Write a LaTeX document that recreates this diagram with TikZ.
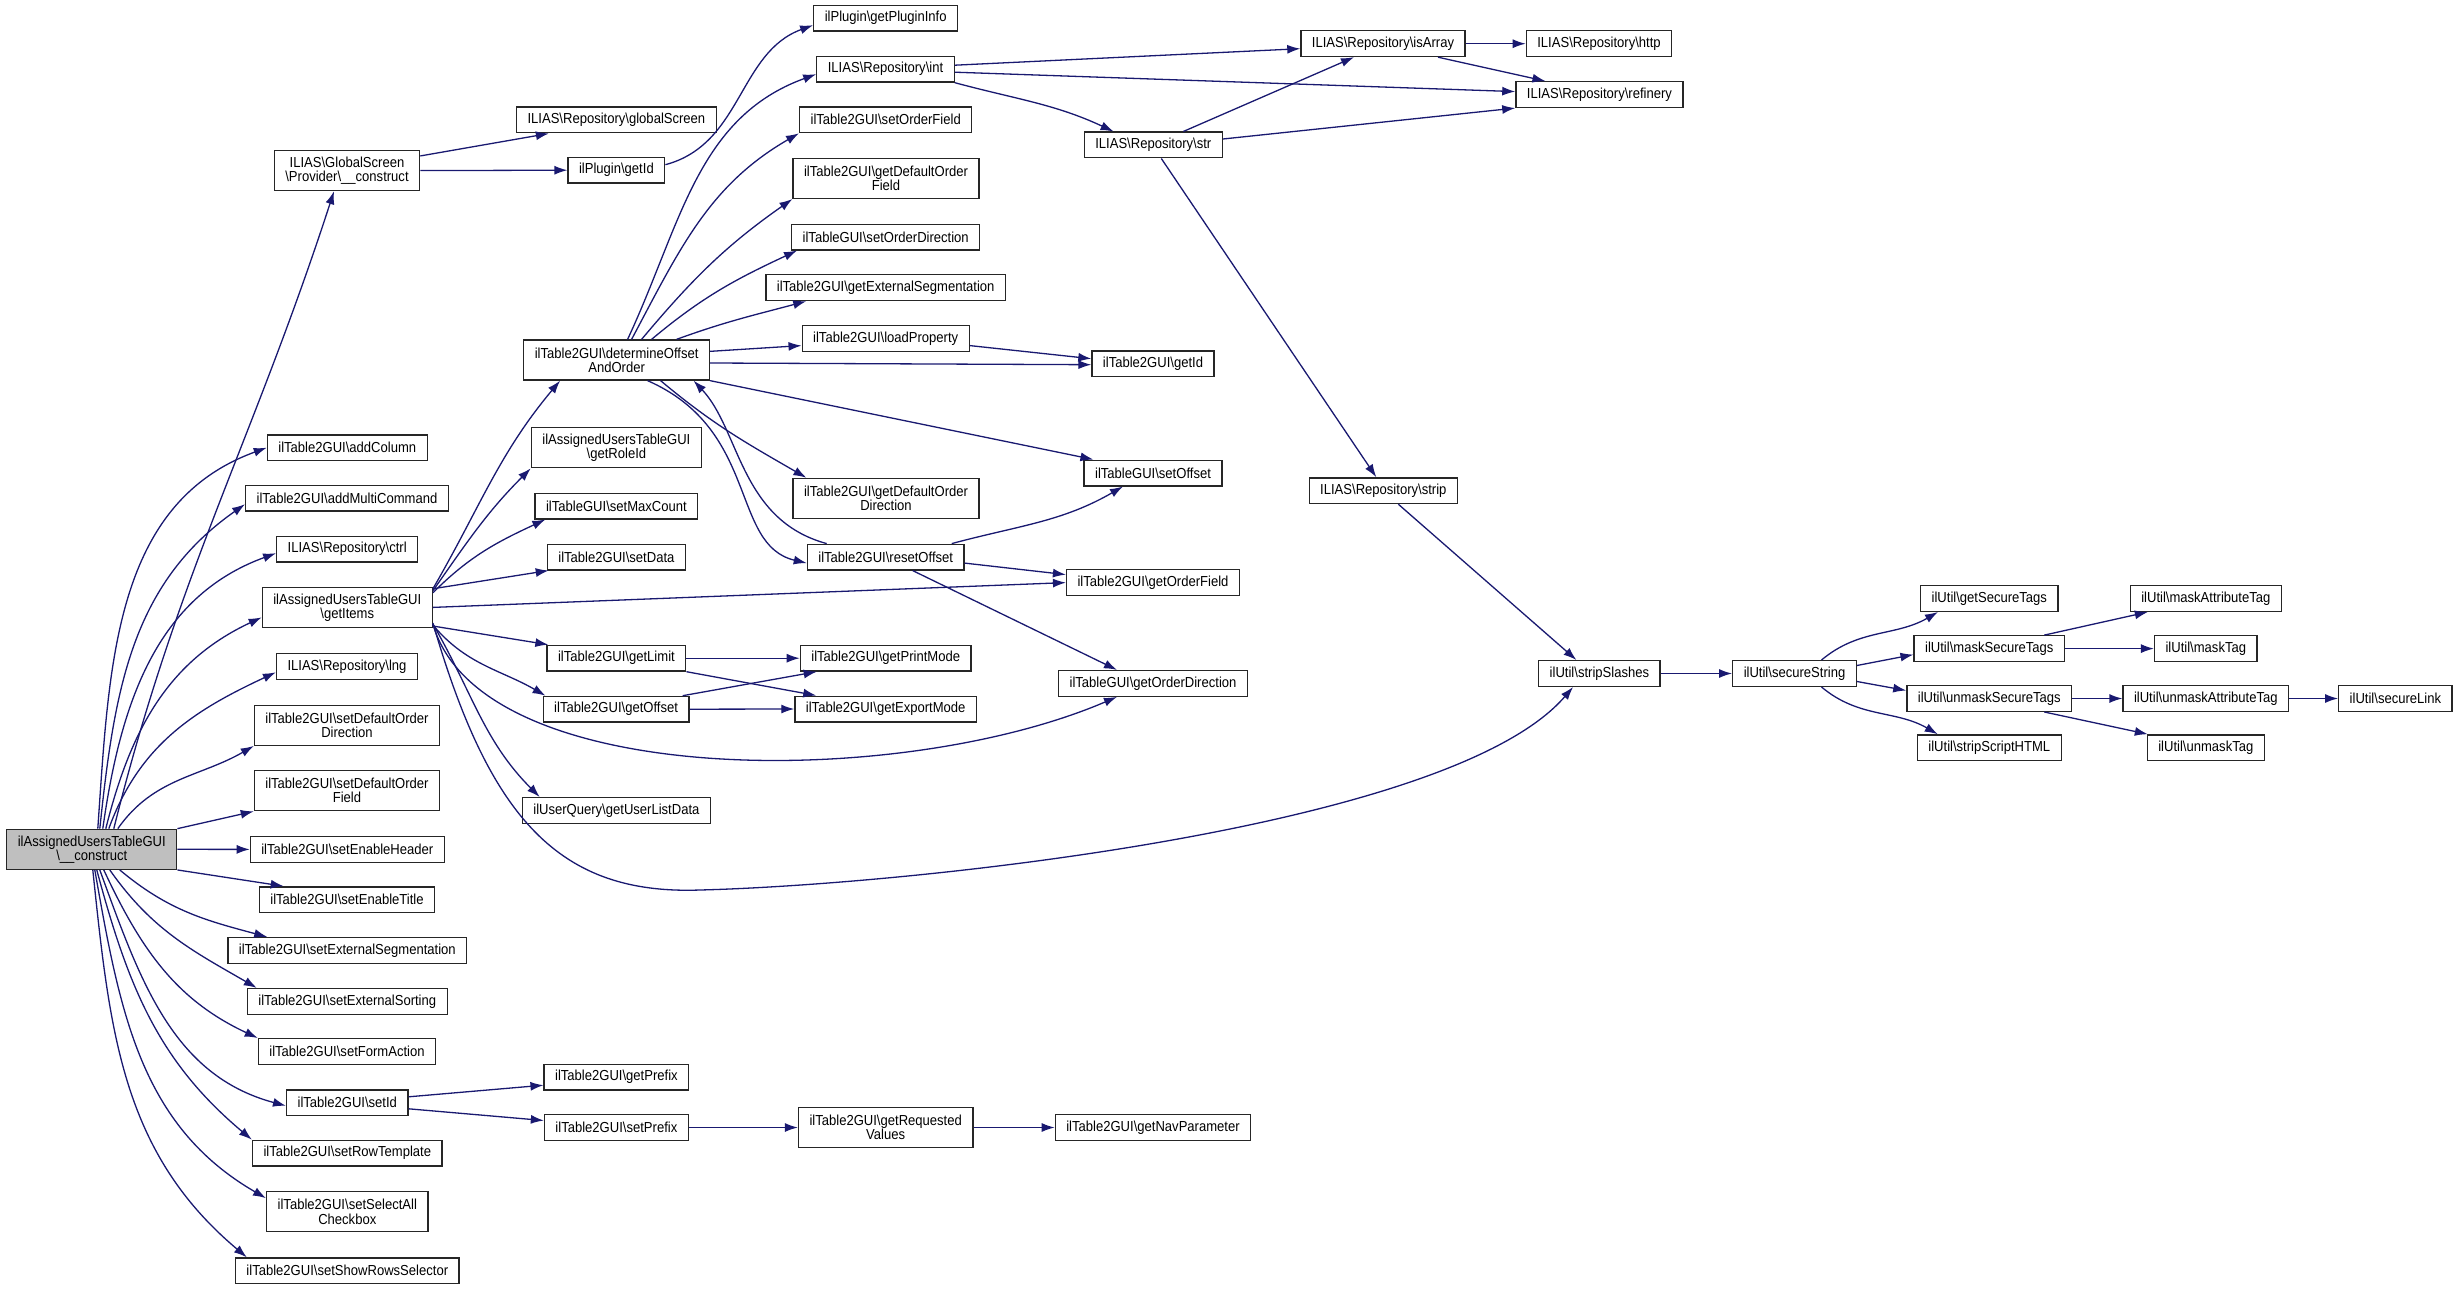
\documentclass[tikz,border=0pt]{standalone}
\usepackage{fontspec}
\usetikzlibrary{arrows,arrows.meta,positioning}
\newfontfamily\fnfam{Liberation Sans}[FakeStretch=0.9]
\newcommand{\bksl}{\textbackslash}
\definecolor{edgeblue}{HTML}{191970}
\tikzset{
    func/.style={draw=black!85,fill=white,line width=1.3pt,minimum height=25.7pt,inner xsep=11pt,inner ysep=2pt,font={\fnfam\fontsize{14.5}{14.1}\selectfont}},
    func2/.style={func,align=center,minimum height=40pt},
    rootfunc/.style={func2,fill=black!25},
    call/.style={-{Latex[length=13pt,width=9pt]},draw=edgeblue,line width=1.3pt}
}
\begin{document}
\begin{tikzpicture}[x=1pt,y=1pt]
                \useasboundingbox (0,0) rectangle (2459,-1289);

                \node[rootfunc] (construct) at (91.8,-849.3) {ilAssignedUsersTableGUI\\\bksl\_\_construct};

                \node[func2] (gs construct)  at (347,-170.6)   {ILIAS\bksl GlobalScreen\\\bksl Provider\bksl\_\_construct};
                \node[func]  (addColumn)     at (347.3,-447.7) {ilTable2GUI\bksl addColumn};
                \node[func]  (addMulti)      at (347,-498.2)   {ilTable2GUI\bksl addMultiCommand};
                \node[func]  (ctrl)          at (347.2,-549.2) {ILIAS\bksl Repository\bksl ctrl};
                \node[func2] (getItems)      at (347.3,-607.4) {ilAssignedUsersTableGUI\\\bksl getItems};
                \node[func]  (lng)           at (347,-666.3)   {ILIAS\bksl Repository\bksl lng};
                \node[func2] (setDefDir)     at (347,-725.3)   {ilTable2GUI\bksl setDefaultOrder\\Direction};
                \node[func2] (setDefField)   at (347,-790.7)   {ilTable2GUI\bksl setDefaultOrder\\Field};
                \node[func]  (setHeader)     at (347.3,-849.4) {ilTable2GUI\bksl setEnableHeader};
                \node[func]  (setTitle)      at (347,-899.7)   {ilTable2GUI\bksl setEnableTitle};
                \node[func]  (setExtSeg)     at (347.3,-950.4) {ilTable2GUI\bksl setExternalSegmentation};
                \node[func]  (setExtSort)    at (347.3,-1001.4){ilTable2GUI\bksl setExternalSorting};
                \node[func]  (setFormAction) at (347,-1051.5)  {ilTable2GUI\bksl setFormAction};
                \node[func]  (setId)         at (347.3,-1102.8){ilTable2GUI\bksl setId};
                \node[func]  (setRowTpl)     at (347.3,-1153.2){ilTable2GUI\bksl setRowTemplate};
                \node[func2] (setSelectAll)  at (347.3,-1211.8){ilTable2GUI\bksl setSelectAll\\Checkbox};
                \node[func]  (setShowRows)   at (347.3,-1270.8){ilTable2GUI\bksl setShowRowsSelector};

                \node[func]  (globalScreen)  at (616.4,-120)   {ILIAS\bksl Repository\bksl globalScreen};
                \node[func]  (plugin getId)  at (616.4,-170.2) {ilPlugin\bksl getId};
                \node[func2] (determine)     at (616.6,-360)   {ilTable2GUI\bksl determineOffset\\AndOrder};
                \node[func2] (getRoleId)     at (616.4,-447.7) {ilAssignedUsersTableGUI\\\bksl getRoleId};
                \node[func]  (setMaxCount)   at (616.4,-506)   {ilTableGUI\bksl setMaxCount};
                \node[func]  (setData)       at (616.4,-557)   {ilTable2GUI\bksl setData};
                \node[func]  (getLimit)      at (616.4,-658.2) {ilTable2GUI\bksl getLimit};
                \node[func]  (getOffset)     at (616.1,-709.2) {ilTable2GUI\bksl getOffset};
                \node[func]  (getUserList)   at (616.4,-810.5) {ilUserQuery\bksl getUserListData};
                \node[func]  (getPrefix)     at (616.4,-1077.2){ilTable2GUI\bksl getPrefix};
                \node[func]  (setPrefix)     at (616.4,-1127.5){ilTable2GUI\bksl setPrefix};

                \node[func]  (getPluginInfo) at (885.7,-18.2)  {ilPlugin\bksl getPluginInfo};
                \node[func]  (int)           at (885.5,-69.2)  {ILIAS\bksl Repository\bksl int};
                \node[func]  (setOrderField) at (885.7,-119.8) {ilTable2GUI\bksl setOrderField};
                \node[func2] (getDefField)   at (886,-178.4)   {ilTable2GUI\bksl getDefaultOrder\\Field};
                \node[func]  (setOrderDir)   at (885.7,-237.1) {ilTableGUI\bksl setOrderDirection};
                \node[func]  (getExtSeg)     at (885.7,-287.7) {ilTable2GUI\bksl getExternalSegmentation};
                \node[func]  (loadProperty)  at (885.7,-338.6) {ilTable2GUI\bksl loadProperty};
                \node[func2] (getDefDir)     at (886,-498.4)   {ilTable2GUI\bksl getDefaultOrder\\Direction};
                \node[func]  (resetOffset)   at (885.7,-557.1) {ilTable2GUI\bksl resetOffset};
                \node[func]  (getPrintMode)  at (885.7,-658.2) {ilTable2GUI\bksl getPrintMode};
                \node[func]  (getExportMode) at (885.7,-709)   {ilTable2GUI\bksl getExportMode};
                \node[func2] (getRequested)  at (885.7,-1127.5){ilTable2GUI\bksl getRequested\\Values};

                \node[func]  (str)           at (1153.3,-145)  {ILIAS\bksl Repository\bksl str};
                \node[func]  (table getId)   at (1153,-363.7)  {ilTable2GUI\bksl getId};
                \node[func]  (setOffset)     at (1153,-473)    {ilTableGUI\bksl setOffset};
                \node[func]  (getOrderField) at (1153,-582.6)  {ilTable2GUI\bksl getOrderField};
                \node[func]  (getOrderDir)   at (1153,-683.4)  {ilTableGUI\bksl getOrderDirection};
                \node[func]  (getNavParam)   at (1153,-1127.5) {ilTable2GUI\bksl getNavParameter};

                \node[func]  (isArray)       at (1383,-43.7)   {ILIAS\bksl Repository\bksl isArray};
                \node[func]  (strip)         at (1383.3,-490.7){ILIAS\bksl Repository\bksl strip};
                \node[func]  (http)          at (1599,-43.7)   {ILIAS\bksl Repository\bksl http};
                \node[func]  (refinery)      at (1599.4,-94.6) {ILIAS\bksl Repository\bksl refinery};
                \node[func]  (stripSlashes)  at (1599.4,-673.5){ilUtil\bksl stripSlashes};
                \node[func]  (secureString)  at (1794.5,-673.5){ilUtil\bksl secureString};
                \node[func]  (getSecureTags) at (1989.3,-598.5){ilUtil\bksl getSecureTags};
                \node[func]  (maskSecure)    at (1989.3,-648.6){ilUtil\bksl maskSecureTags};
                \node[func]  (unmaskSecure)  at (1989.3,-698.5){ilUtil\bksl unmaskSecureTags};
                \node[func]  (stripScript)   at (1989.3,-747.7){ilUtil\bksl stripScriptHTML};
                \node[func]  (maskAttr)      at (2205.8,-598.5){ilUtil\bksl maskAttributeTag};
                \node[func]  (maskTag)       at (2205.8,-648.6){ilUtil\bksl maskTag};
                \node[func]  (unmaskAttr)    at (2205.8,-698.5){ilUtil\bksl unmaskAttributeTag};
                \node[func]  (unmaskTag)     at (2205.8,-747.7){ilUtil\bksl unmaskTag};
                \node[func]  (secureLink)    at (2395.4,-698.5){ilUtil\bksl secureLink};

                \draw[call] ([xshift=22pt]construct.north) to[out=76,in=-108] ([xshift=-13pt]gs construct.south);
                \draw[call] ([xshift=6pt]construct.north) to[out=86,in=200] (addColumn.west);
                \draw[call] ([xshift=8pt]construct.north) to[out=84,in=215] ([yshift=-6pt]addMulti.west);
                \draw[call] ([xshift=11pt]construct.north) to[out=82,in=200] ([yshift=-4pt]ctrl.west);
                \draw[call] ([xshift=14pt]construct.north) to[out=76,in=205] ([yshift=-10pt]getItems.west);
                \draw[call] ([xshift=17pt]construct.north) to[out=70,in=205] ([yshift=-6pt]lng.west);
                \draw[call] ([xshift=26pt]construct.north) to[out=55,in=210] (setDefDir.south west);
                \draw[call] (construct.north east) -- (setDefField.south west);
                \draw[call] (construct.east) -- (setHeader.west);
                \draw[call] (construct.south east) -- ([xshift=25pt]setTitle.north west);
                \draw[call] ([xshift=28pt]construct.south) to[out=-40,in=165] ([xshift=40pt]setExtSeg.north west);
                \draw[call] ([xshift=18pt]construct.south) to[out=-55,in=150] ([xshift=10pt]setExtSort.north west);
                \draw[call] ([xshift=12pt]construct.south) to[out=-65,in=155] (setFormAction.north west);
                \draw[call] ([xshift=8pt]construct.south) to[out=-70,in=165] ([yshift=-3pt]setId.west);
                \draw[call] ([xshift=5pt]construct.south) to[out=-75,in=140] (setRowTpl.north west);
                \draw[call] ([xshift=3pt]construct.south) to[out=-80,in=150] ([yshift=-7pt]setSelectAll.north west);
                \draw[call] ([xshift=1pt]construct.south) to[out=-84,in=140] ([xshift=12pt]setShowRows.north west);

                \draw[call] ([yshift=-6pt]gs construct.north east) -- ([xshift=33pt]globalScreen.south west);
                \draw[call] (gs construct.east) -- (plugin getId.west);
                \draw[call] ([yshift=-8pt]plugin getId.north east) to[out=15,in=200] ([yshift=-7pt]getPluginInfo.west);

                \draw[call] ([yshift=-2pt]getItems.north east) to[out=60,in=230] ([xshift=37pt]determine.south west);
                \draw[call] ([yshift=-4pt]getItems.north east) to[out=55,in=225] (getRoleId.south west);
                \draw[call] ([yshift=-6pt]getItems.north east) to[out=45,in=205] ([xshift=11pt]setMaxCount.south west);
                \draw[call] ([yshift=-2pt]getItems.north east) -- ([xshift=2pt]setData.south west);
                \draw[call] (getItems.east) -- (getOrderField.west);
                \draw[call] ([yshift=2pt]getItems.south east) -- ([xshift=2pt]getLimit.north west);
                \draw[call] ([yshift=3pt]getItems.south east) to[out=-50,in=150] ([xshift=3pt]getOffset.north west);
                \draw[call] ([yshift=4pt]getItems.south east) .. controls (480,-790) and (900,-790) .. ([xshift=59pt]getOrderDir.south west);
                \draw[call] ([yshift=4pt]getItems.south east) to[out=-60,in=135] ([xshift=18pt]getUserList.north west);
                \draw[call] ([yshift=5pt]getItems.south east) .. controls (490,-820) and (560,-895) .. (700,-890)
                    .. controls (900,-885) and (1450,-830) .. ([xshift=35pt]stripSlashes.south west);

                \draw[call] ([xshift=11pt]determine.north) to[out=65,in=200] ([yshift=-5pt]int.west);
                \draw[call] ([xshift=15pt]determine.north) to[out=62,in=210] (setOrderField.south west);
                \draw[call] ([xshift=25pt]determine.north) to[out=50,in=215] (getDefField.south west);
                \draw[call] ([xshift=35pt]determine.north) to[out=40,in=205] ([xshift=6pt]setOrderDir.south west);
                \draw[call] ([xshift=60pt]determine.north) to[out=20,in=195] ([xshift=41pt]getExtSeg.south west);
                \draw[call] ([yshift=-12pt]determine.north east) -- ([yshift=-7pt]loadProperty.west);
                \draw[call] ([yshift=-3pt]determine.east) -- ([yshift=-1pt]table getId.west);
                \draw[call] (determine.south east) -- ([xshift=10pt]setOffset.north west);
                \draw[call] ([xshift=44pt]determine.south) to[out=-40,in=150] ([xshift=14pt]getDefDir.north west);
                \draw[call] ([xshift=31pt]determine.south) .. controls (760,-430) and (730,-545) .. ([yshift=-6pt]resetOffset.west);
                \draw[call] ([xshift=-59pt]resetOffset.north) .. controls (740,-520) and (740,-430) .. ([xshift=77pt]determine.south);

                \draw[call] ([yshift=-7pt]loadProperty.east) -- ([yshift=5pt]table getId.west);
                \draw[call] ([xshift=66pt]resetOffset.north) to[out=15,in=210] ([xshift=-30pt]setOffset.south);
                \draw[call] ([yshift=-6pt]resetOffset.east) -- ([yshift=8pt]getOrderField.west);
                \draw[call] ([xshift=27pt]resetOffset.south) -- ([xshift=-36pt]getOrderDir.north);

                \draw[call] (getLimit.east) -- (getPrintMode.west);
                \draw[call] (getLimit.south east) -- ([xshift=22pt]getExportMode.north west);
                \draw[call] ([xshift=-7pt]getOffset.north east) -- ([xshift=17pt]getPrintMode.south west);
                \draw[call] (getOffset.east) -- (getExportMode.west);

                \draw[call] ([yshift=6pt]setId.east) -- ([yshift=-8pt]getPrefix.west);
                \draw[call] ([yshift=-6pt]setId.east) -- ([yshift=7pt]setPrefix.west);
                \draw[call] (setPrefix.east) -- (getRequested.west);
                \draw[call] (getRequested.east) -- (getNavParam.west);

                \draw[call] ([yshift=4pt]int.east) -- ([yshift=-5pt]isArray.west);
                \draw[call] ([yshift=-3pt]int.east) -- ([yshift=3pt]refinery.west);
                \draw[call] (int.south east) to[out=-15,in=155] ([xshift=30pt]str.north west);
                \draw[call] ([xshift=30pt]str.north) -- ([xshift=-29pt]isArray.south);
                \draw[call] ([yshift=6pt]str.east) -- (refinery.south west);
                \draw[call] ([xshift=8pt]str.south) -- ([xshift=-7pt]strip.north);
                \draw[call] (isArray.east) -- (http.west);
                \draw[call] ([xshift=55pt]isArray.south) -- ([xshift=-54pt]refinery.north);

                \draw[call] ([xshift=15pt]strip.south) -- ([xshift=-23pt]stripSlashes.north);
                \draw[call] (stripSlashes.east) -- (secureString.west);
                \draw[call] ([xshift=27pt]secureString.north) to[out=40,in=210] ([xshift=18pt]getSecureTags.south west);
                \draw[call] ([yshift=8pt]secureString.east) -- ([yshift=-6pt]maskSecure.west);
                \draw[call] ([yshift=-8pt]secureString.east) -- ([yshift=8pt]unmaskSecure.west);
                \draw[call] ([xshift=27pt]secureString.south) to[out=-40,in=150] ([xshift=21pt]stripScript.north west);
                \draw[call] ([xshift=55pt]maskSecure.north) -- ([xshift=-58pt]maskAttr.south);
                \draw[call] (maskSecure.east) -- (maskTag.west);
                \draw[call] (unmaskSecure.east) -- (unmaskAttr.west);
                \draw[call] ([xshift=55pt]unmaskSecure.south) -- ([xshift=-58pt]unmaskTag.north);
                \draw[call] (unmaskAttr.east) -- (secureLink.west);

            \end{tikzpicture}
\end{document}
